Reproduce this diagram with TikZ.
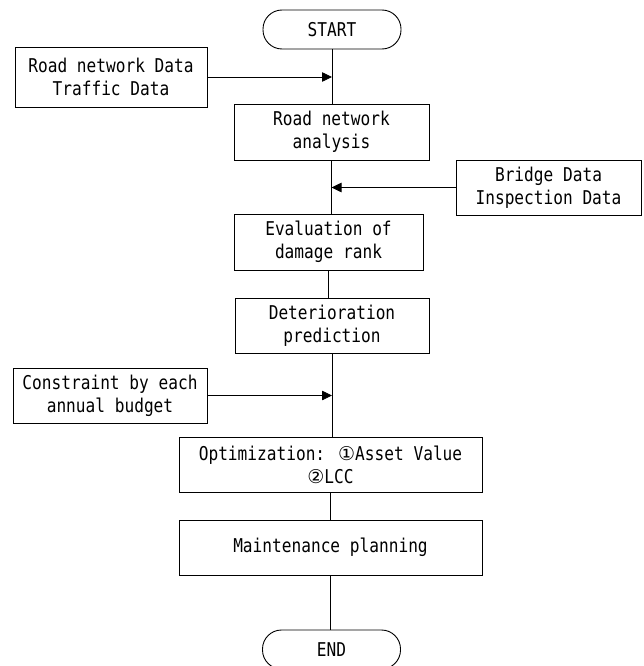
\documentclass[tikz,border=0pt]{standalone}
\usepackage{fontspec}
\setmainfont{DejaVu Sans Mono}[FakeStretch=0.85]
\newfontfamily\symfont{DejaVu Sans}
\usetikzlibrary{arrows.meta}
\begin{document}
\begin{tikzpicture}[x=1pt,y=-1pt,
  box/.style={draw, line width=0.9pt, inner sep=0pt, align=center,
              font=\fontsize{19}{23}\selectfont},
  term/.style={box, rounded corners=19pt, minimum width=138pt, minimum height=39pt},
  flow/.style={line width=0.8pt},
  arr/.style={flow, -{Triangle[length=10pt,width=9.5pt]}}]
\useasboundingbox (0,0) rectangle (644,666);
\node[term] (start) at (332,29.5) {START};
\node[box, minimum width=192pt, minimum height=60pt] (rnd) at (111,77) {Road network Data\\Traffic Data};
\node[box, minimum width=195pt, minimum height=56pt] (rna) at (331.5,132) {Road network\\analysis};
\node[box, minimum width=185pt, minimum height=55pt] (bridge) at (548.5,187.5) {Bridge Data\\Inspection Data};
\node[box, minimum width=189pt, minimum height=56pt] (eval) at (328.5,242) {Evaluation of\\damage rank};
\node[box, minimum width=194pt, minimum height=55pt] (deter) at (332,325.5) {Deterioration\\prediction};
\node[box, minimum width=194pt, minimum height=55pt] (cons) at (110,395.5) {Constraint by each\\annual budget};
\node[box, minimum width=303pt, minimum height=55pt] (opt) at (330.5,464.5) {Optimization: {\symfont ①}Asset Value\\{\symfont ②}LCC};
\node[box, minimum width=303pt, minimum height=55pt] (maint) at (330.5,547.5) {Maintenance planning};
\node[term] (end) at (331.5,649.5) {END};

\draw[flow] (start.south) -- (start.south |- rna.north);
\draw[arr] (rnd.east) -- (rnd.east -| start.south);
\draw[flow] (rna.south) -- (rna.south |- eval.north);
\draw[arr] (bridge.west) -- (bridge.west -| rna.south);
\draw[flow] (eval.south) -- (eval.south |- deter.north);
\draw[flow] (deter.south) -- (deter.south |- opt.north);
\draw[arr] (cons.east) -- (cons.east -| deter.south);
\draw[flow] (opt.south) -- (opt.south |- maint.north);
\draw[flow] (maint.south) -- (maint.south |- end.north);
\end{tikzpicture}
\end{document}
